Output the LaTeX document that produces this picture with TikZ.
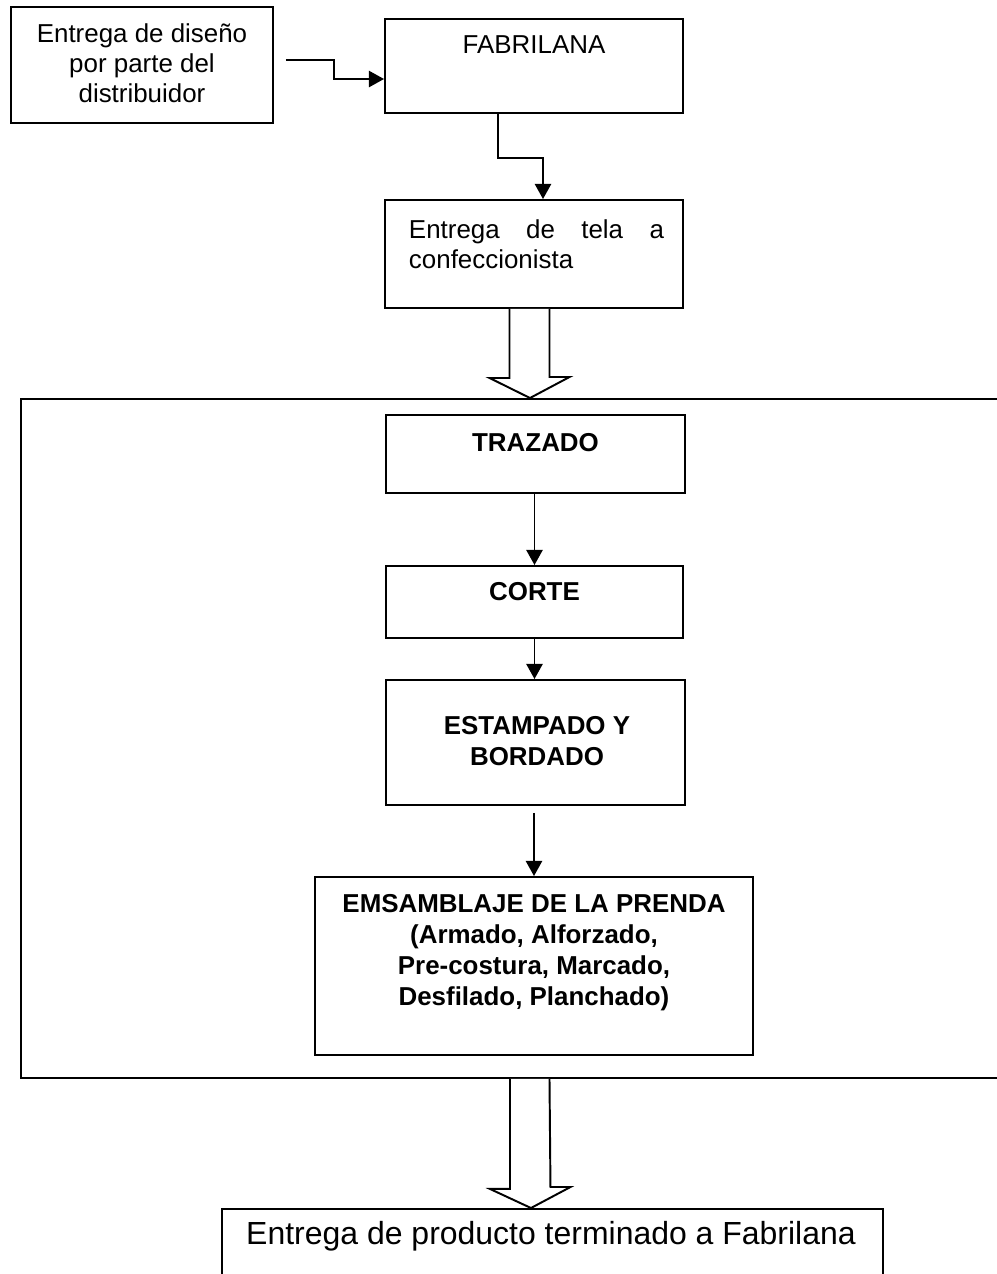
\documentclass[tikz,border=0pt]{standalone}
\usepackage{fontspec}
\setmainfont{Liberation Sans}
\usetikzlibrary{arrows.meta,calc}
\newcommand\pxu{0.463pt}

\begin{document}
\begin{tikzpicture}[x=0.463pt, y=-0.463pt, line width=0.9pt,
  every node/.style={font=\fontsize{12}{13.9}\selectfont},
  box/.style 2 args={draw=black, minimum width=#1*\pxu, minimum height=#2*\pxu, inner sep=0pt},
  bold/.style={font=\fontsize{12}{14.35}\selectfont\bfseries, align=center},
  arr/.style={-{Triangle[length=7pt,width=7.5pt]}},
  blk/.style={draw=black, fill=white, line join=miter}]

  \clip (0,0) rectangle (997,1274);

  % --- parte superior ---
  \node[box={262}{116}] (dis) at (142,65) {};
  \node[align=center] (distxt) at (142,63) {Entrega de diseño\\por parte del\\distribuidor};

  \node[box={298}{94}] (fab) at (534,66) {};
  \node (fabtxt) at (534,45) {FABRILANA};

  \node[box={298}{108}] (tela) at (534,254) {};
  \node[anchor=north west, text width=255*\pxu, align=justify, inner sep=0pt] (telatxt)
    at (408,219) {Entrega de tela a \mbox{confeccionista}};

  \draw[arr] ([shift={(12,-5)}]dis.east) -- ++(48,0) |- ([shift={(0,13)}]fab.west);
  \draw[arr] ([shift={(-36,0)}]fab.south) -- ++(0,44) -| ([shift={(9,0)}]tela.north);

  % --- confeccionista ---
  \node[draw=black, inner sep=0pt, minimum width=1000*\pxu, minimum height=679*\pxu,
    anchor=north west] (frame) at (20,398) {};

  \draw[blk] ($(tela.south)+(-24.5,0)$) -- ++(0,69) -- ++(-20,0)
    -- ($(frame.north west)+(510,0)$) -- ++(39.5,-21) -- ++(-20,0) -- ($(tela.south)+(15.5,0)$);

  \node[box={299}{78}] (traz) at (535.5,454) {};
  \node[bold] (traztxt) at (535.5,443) {TRAZADO};

  \node[box={297}{72}] (corte) at (534.5,602) {};
  \node[bold] (cortetxt) at (534.5,592) {CORTE};

  \node[box={299}{125}] (est) at (535.5,742.5) {};
  \node[bold] (esttxt) at (537,741) {ESTAMPADO Y\\BORDADO};

  \node[box={438}{178}] (ems) at (534,966) {};
  \node[bold] (emstxt) at (534,953) {EMSAMBLAJE DE LA PRENDA\\(Armado, Alforzado,\\Pre-costura, Marcado,\\Desfilado, Planchado)};

  \draw[arr] (traz.south -| corte.north) -- (corte.north);
  \draw[arr] (corte.south) -- (corte.south |- est.north);
  \draw[arr] ([shift={(-1.5,7)}]est.south) -- (ems.north);

  % --- producto final ---
  \node[box={661}{100}, anchor=north west] (prod) at (221,1208) {};
  \node[font=\fontsize{14.8}{17}\selectfont] (prodtxt) at (551,1236) {Entrega de producto terminado a Fabrilana};

  \draw[blk] ($(frame.south west)+(490,0)$) -- ++(0,110) -- ++(-20,0)
    -- ($(prod.north)+(-21.5,0)$) -- ++(39.5,-21) -- ++(-20,0) -- ($(frame.south west)+(529.5,0)$);

\end{tikzpicture}
\end{document}
